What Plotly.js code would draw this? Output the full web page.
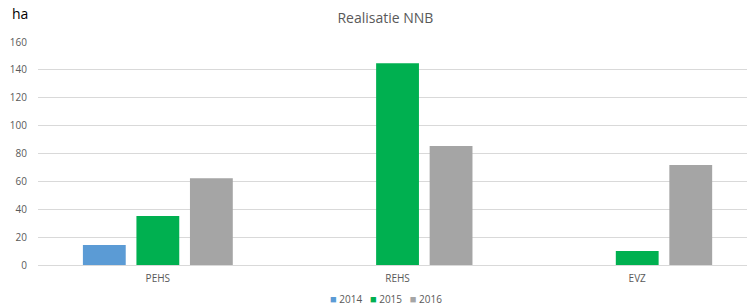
<!DOCTYPE html>
<html>
<head>
<meta charset="utf-8">
<script src="https://cdn.plot.ly/plotly-3.0.1.min.js"></script>
<style>html,body{margin:0;padding:0;background:#fff;}#chart{width:747px;height:306px;}</style>
</head>
<body>
<div id="chart"></div>
<script>
const categories = ["PEHS", "REHS", "EVZ"];
const years = ["2014", "2015", "2016"];
const values2014 = [14.3, null, null];
const values2015 = [35.2, 144.7, 10];
const values2016 = [62.2, 85.4, 71.7];
const yTicks = [0, 20, 40, 60, 80, 100, 120, 140, 160];
const colors = ["#5b9bd5", "#00b050", "#a5a5a5"];

const series = [values2014, values2015, values2016];
const traces = series.map((vals, i) => ({
  type: "bar",
  name: years[i],
  x: categories,
  y: vals,
  marker: {color: colors[i]},
  showlegend: false,
  hoverinfo: "skip"
}));

const font = "Open Sans, Noto Sans, sans-serif";
const legendText = years.map((y, i) =>
  "<span style='color:" + colors[i] + ";font-size:11px'>■</span>&nbsp;" + y).join("&nbsp;&nbsp;&nbsp;");

const layout = {
  width: 747, height: 306,
  margin: {l: 38, r: 0, t: 42, b: 41, autoexpand: false},
  paper_bgcolor: "#fff", plot_bgcolor: "#fff",
  barmode: "group",
  bargap: 0.33,
  bargroupgap: 0.2,
  showlegend: false,
  title: {text: "Realisatie NNB", x: 0.516, xanchor: "center", y: 0.94, yanchor: "middle",
          font: {family: font, size: 14, color: "#595959"}},
  xaxis: {range: [-0.5, 2.458], showgrid: false, zeroline: false, showline: false,
          ticks: "", ticklabelstandoff: 6,
          tickfont: {family: font, size: 10, color: "#595959"}, fixedrange: true},
  yaxis: {range: [0, 160], tickvals: yTicks, ticktext: yTicks.map(String),
          showgrid: true, gridcolor: "#d9d9d9", gridwidth: 1, zeroline: true, zerolinecolor: "#d9d9d9",
          showline: false, ticks: "", ticklabelstandoff: 10,
          tickfont: {family: font, size: 10, color: "#595959"}, fixedrange: true},
  annotations: [
    {text: "ha", xref: "paper", yref: "paper", x: -0.04, y: 1.126,
     xanchor: "left", yanchor: "middle", showarrow: false,
     font: {family: font, size: 14, color: "#000"}},
    {text: legendText, xref: "paper", yref: "paper", x: 0.491, y: -0.148,
     xanchor: "center", yanchor: "middle", showarrow: false,
     font: {family: font, size: 10, color: "#595959"}}
  ]
};
Plotly.newPlot("chart", traces, layout, {displayModeBar: false, staticPlot: true});
</script>
</body>
</html>
